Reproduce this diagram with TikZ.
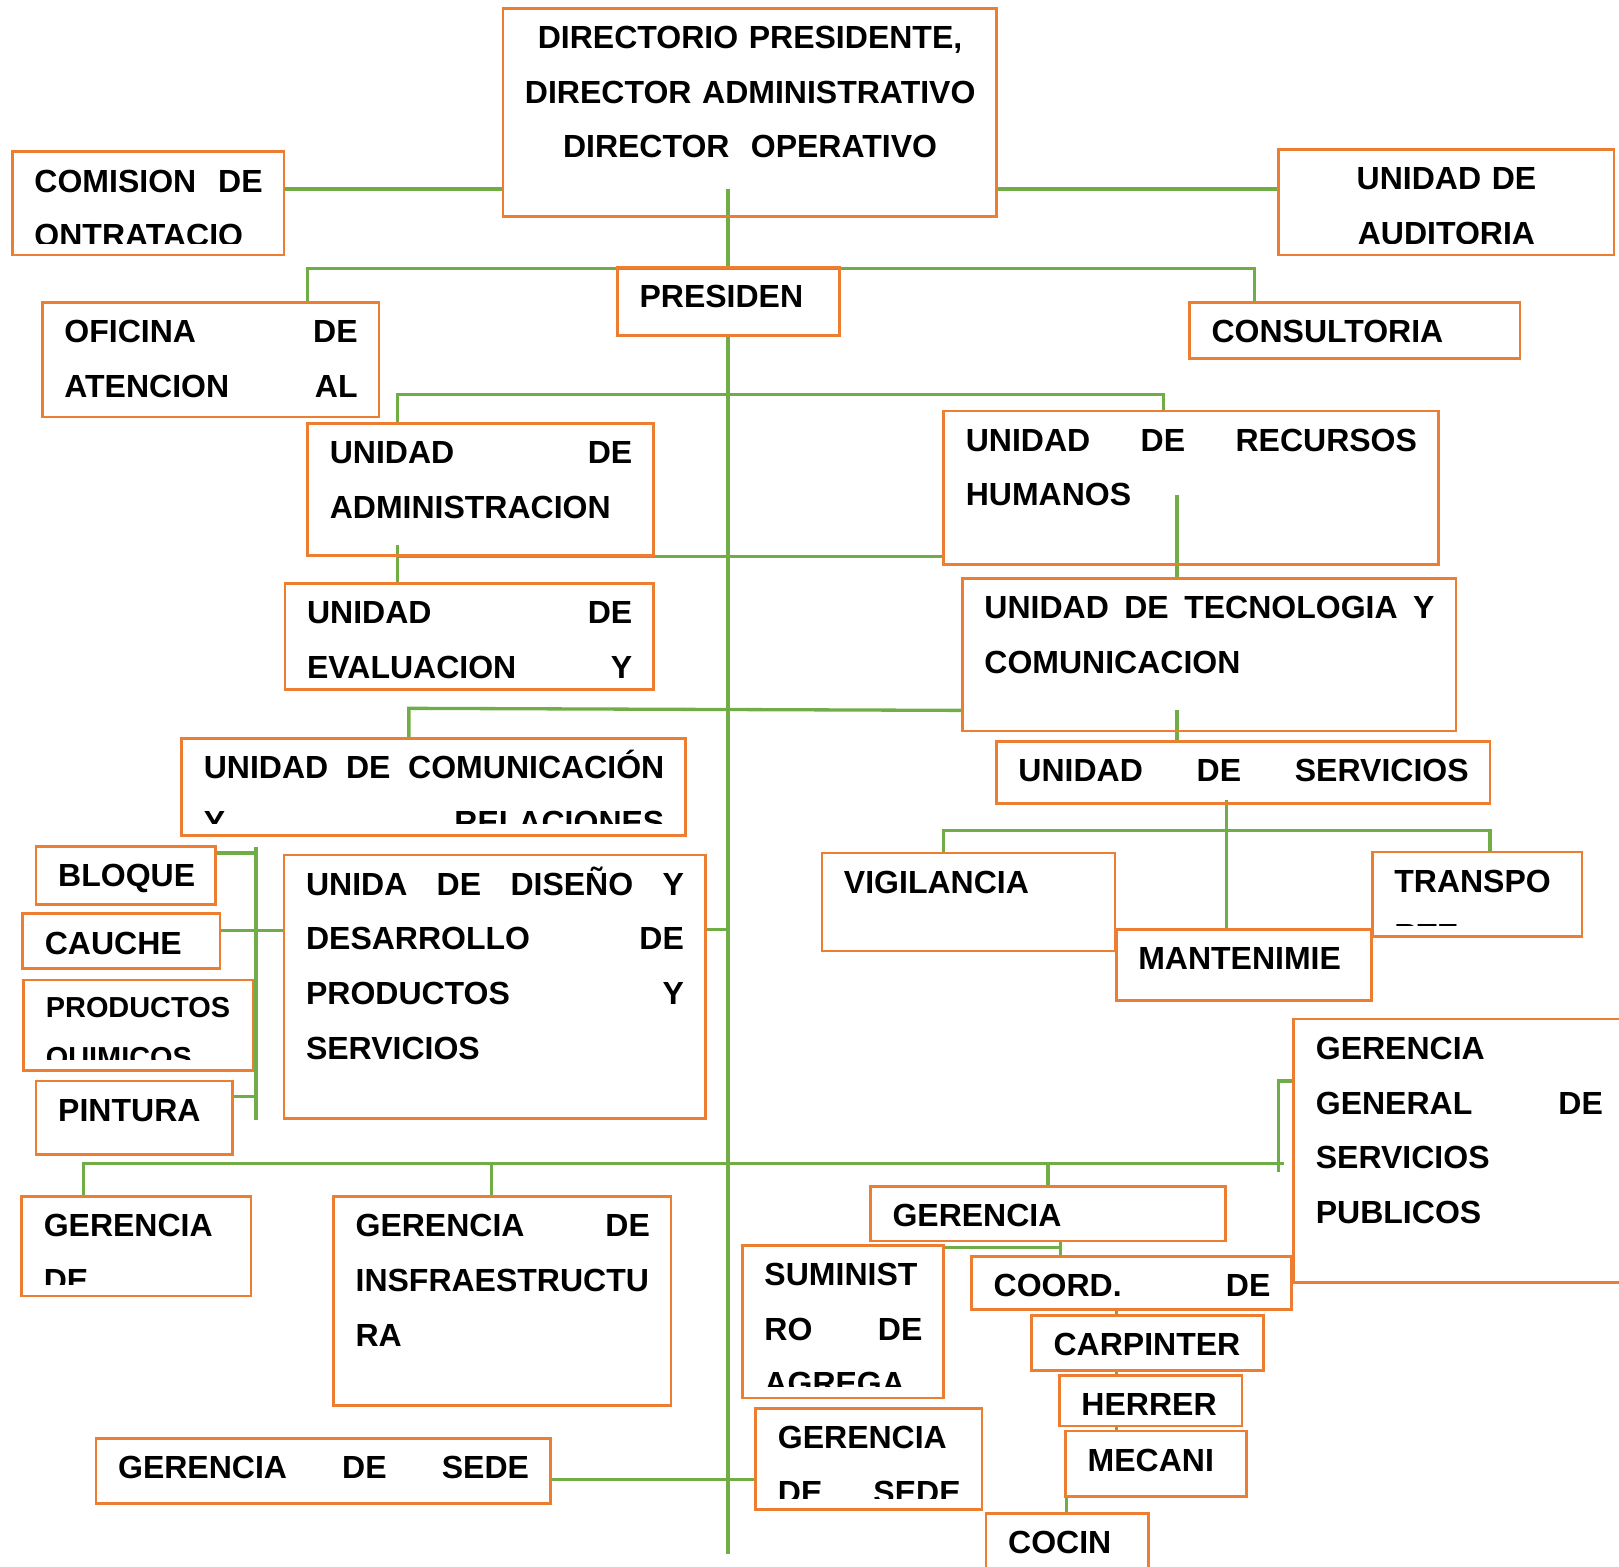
\documentclass[tikz,border=0pt]{standalone}
\usepackage{fontspec}
\setmainfont{Liberation Sans}
\usetikzlibrary{fit,backgrounds}
\definecolor{boxorange}{HTML}{ED7D31}
\definecolor{linegreen}{HTML}{70AD47}
\hyphenpenalty=10000

% box with its text, the text cut off at the box's inner bottom
\newcommand\unitbox[7][]{%
  \node[orgbox, fit={(#3,#4) (#5,#6)}] (#2) {};
  \pgfmathsetmacro\unitw{(#5-#3-42)/2}%
  \begin{scope}
    \clip (#3,#4) rectangle (#5,#6-11);
    \node[orgtext, text width=\unitw pt, #1] (#2-t) at (#3+21,#4+39) {#7};
  \end{scope}}

\begin{document}
\begin{tikzpicture}[
  x=0.5pt, y=-0.5pt,
  orgbox/.style={draw=boxorange, line width=1.3pt, inner sep=0pt},
  orgtext/.style={font=\fontsize{15.5}{26.5}\selectfont\bfseries,
                  inner sep=0pt, anchor=base west},
  wire/.style={draw=linegreen, line width=1.6pt},
]
  \useasboundingbox (0,0) rectangle (1568,1517);

  % direction
  \unitbox[align=center]{dir}{487}{8}{965}{210}
    {DIRECTORIO~PRESIDENTE,\\DIRECTOR~ADMINISTRATIVO\\DIRECTOR~~OPERATIVO}
  \unitbox{comision}{12}{147}{275}{247}{COMISION\hfill DE\\ONTRATACIO}
  \unitbox[align=center]{auditoria}{1238}{145}{1563}{247}{UNIDAD DE\\AUDITORIA}
  \unitbox{presiden}{598}{259}{813}{325}{PRESIDEN}
  \unitbox{oficina}{41}{293}{367}{404}{OFICINA\hfill DE\\ATENCION\hfill AL}
  \unitbox{consultoria}{1152}{293}{1472}{347}{CONSULTORIA}

  % units
  \unitbox{admin}{298}{410}{633}{538}{UNIDAD\hfill DE\\ADMINISTRACION}
  \unitbox{rrhh}{914}{398}{1393}{547}{UNIDAD\hfill DE\hfill RECURSOS\\HUMANOS}
  \unitbox{evaluacion}{276}{565}{633}{668}{UNIDAD\hfill DE\\EVALUACION\hfill Y}
  \unitbox{tecno}{932}{560}{1410}{708}
    {UNIDAD\hfill DE\hfill TECNOLOGIA\hfill Y\\COMUNICACION}
  \unitbox{comunic}{176}{715}{664}{809}
    {UNIDAD\hfill DE\hfill COMUNICACIÓN\\Y\hfill RELACIONES}
  \unitbox{servicios}{965}{718}{1443}{778}{UNIDAD\hfill DE\hfill SERVICIOS}
  \unitbox{vigil}{796}{826}{1080}{921}{VIGILANCIA}
  \unitbox{transpo}{1329}{825}{1532}{907}{TRANSPO\\RTE}
  \unitbox{mante}{1081}{900}{1328}{969}{MANTENIMIE}

  % products
  \unitbox{bloque}{35}{820}{209}{876}{BLOQUE}
  \unitbox{cauche}{22}{885}{213}{938}{CAUCHE}
  \unitbox[font=\fontsize{14}{24.5}\selectfont\bfseries, yshift=1.5pt]
    {productos}{23}{949}{245}{1037}{PRODUCTOS\\QUIMICOS}
  \unitbox{pintura}{35}{1047}{225}{1118}{PINTURA}
  \unitbox{diseno}{275}{828}{683}{1083}
    {UNIDA\hfill DE\hfill DISEÑO\hfill Y\\DESARROLLO\hfill DE\\PRODUCTOS\hfill Y\\SERVICIOS}

  % managements
  \unitbox{gengral}{1253}{987}{1573}{1242}
    {GERENCIA\\GENERAL\hfill DE\\SERVICIOS\\PUBLICOS}
  \unitbox{gerde}{21}{1159}{243}{1255}{GERENCIA\\DE}
  \unitbox{infra}{323}{1159}{650}{1361}{GERENCIA\hfill DE\\INSFRAESTRUCTU\\RA}
  \unitbox{gerencia}{843}{1149}{1187}{1202}{GERENCIA}
  \unitbox{suminist}{719}{1206}{914}{1354}{SUMINIST\\RO\hfill DE\\AGREGA}
  \unitbox{coord}{941}{1217}{1251}{1268}{COORD.\hfill DE}
  \unitbox{carp}{999}{1274}{1224}{1327}{CARPINTER}
  \unitbox{herrer}{1026}{1332}{1203}{1381}{HERRER}
  \unitbox{mecani}{1032}{1386}{1207}{1449}{MECANI}
  \unitbox{cocin}{955}{1466}{1112}{1525}{COCIN}
  \unitbox{sedeB}{732}{1364}{951}{1462}{GERENCIA\\DE\hfill SEDE}
  \unitbox{sedeA}{93}{1393}{533}{1456}{GERENCIA\hfill DE\hfill SEDE}

  \begin{scope}[on background layer]
    % trunk
    \coordinate (jdir) at (705,183);
    \coordinate (trunkend) at (705,1505);
    \draw[wire] (comision.east |- jdir) -- (dir.west |- jdir);
    \draw[wire] (dir.east |- jdir) -- (auditoria.west |- jdir);
    \draw[wire] (jdir) -- (jdir |- presiden.north);
    \draw[wire] (jdir |- presiden.south) -- (trunkend);

    \coordinate (jpl) at (298,260);
    \coordinate (jpr) at (1215,260);
    \draw[wire] (jpl |- oficina.north) -- (jpl) -- (jpr) -- (jpr |- consultoria.north);

    \coordinate (jal) at (385,382);
    \coordinate (jar) at (1127,382);
    \draw[wire] (jal |- admin.north) -- (jal) -- (jar) -- (jar |- rrhh.north);
    \coordinate (jadm) at (385,528);
    \coordinate (jadm2) at (385,539);
    \draw[wire] (jadm) -- (jadm |- evaluacion.north);
    \draw[wire] (jadm2) -- (jadm2 -| rrhh.west);
    \coordinate (jrh) at (1140,479);
    \draw[wire] (jrh) -- (jrh |- tecno.north);

    \coordinate (jcom) at (396,686);
    \coordinate (jtec) at (1140,688);
    \draw[wire] (jcom |- comunic.north) -- (jcom) -- (jtec -| tecno.west);
    \draw[wire] (jtec) -- (jtec |- servicios.north);

    \coordinate (jsrv) at (1188,775);
    \draw[wire] (jsrv) -- (jsrv |- mante.north);
    \coordinate (jvl) at (914,804);
    \coordinate (jvr) at (1443,804);
    \draw[wire] (jvl |- vigil.north) -- (jvl) -- (jvr) -- (jvr |- transpo.north);

    % products bus
    \coordinate (jlt) at (248,820);
    \coordinate (jlb) at (248,1085);
    \draw[wire] (jlt) -- (jlb);
    \coordinate (jbl) at (250,826);
    \draw[wire] (jbl -| bloque.east) -- (jbl);
    \coordinate (jca) at (248,901);
    \draw[wire] (jca -| cauche.east) -- (jca -| diseno.west);
    \coordinate (jpi) at (248,1062);
    \draw[wire] (jpi -| pintura.east) -- (jpi);
    \coordinate (jdis) at (705,900);
    \draw[wire] (jdis -| diseno.east) -- (jdis);

    % managements bus
    \coordinate (jgl) at (81,1127);
    \coordinate (jgr) at (1244,1127);
    \draw[wire] (jgl |- gerde.north) -- (jgl) -- (jgr);
    \coordinate (jinf) at (476,1127);
    \draw[wire] (jinf) -- (jinf |- infra.north);
    \coordinate (jger) at (1015,1127);
    \draw[wire] (jger) -- (jger |- gerencia.north);
    \coordinate (jgg) at (1238,1047);
    \coordinate (jggb) at (1238,1135);
    \draw[wire] (jggb) -- (jgg) -- (jgg -| gengral.west);

    \coordinate (jsu) at (1027,1208);
    \draw[wire] (jsu |- gerencia.south) -- (jsu |- coord.north);
    \draw[wire] (jsu -| suminist.east) -- (jsu);
    \coordinate (jch) at (1081,1300);
    \draw[wire] (jch |- coord.south) -- (jch |- carp.north);
    \draw[wire] (jch |- carp.south) -- (jch |- herrer.north);
    \draw[wire] (jch |- herrer.south) -- (jch |- mecani.north);
    \coordinate (jco) at (1033,1460);
    \draw[wire] (jco |- mecani.south) -- (jco |- cocin.north);

    \coordinate (jsd) at (705,1433);
    \draw[wire] (jsd -| sedeA.east) -- (jsd -| sedeB.west);
  \end{scope}
\end{tikzpicture}
\end{document}
